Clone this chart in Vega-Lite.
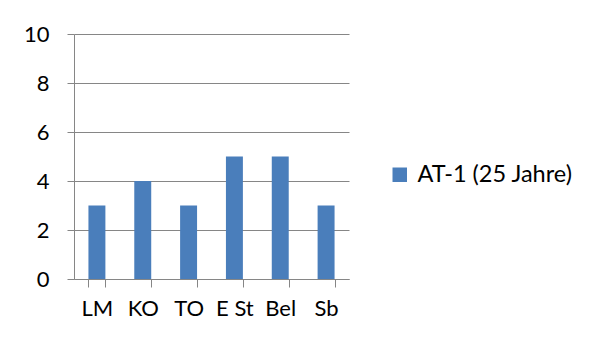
{
  "$schema": "https://vega.github.io/schema/vega-lite/v6.json",
  "width": 275,
  "height": 245,
  "autosize": {"type": "none"},
  "padding": {"left": 74, "top": 34, "right": 247, "bottom": 64},
  "background": "white",
  "data": {
    "values": [
      {"kategorie": "LM", "wert": 3, "serie": "AT-1 (25 Jahre)"},
      {"kategorie": "KO", "wert": 4, "serie": "AT-1 (25 Jahre)"},
      {"kategorie": "TO", "wert": 3, "serie": "AT-1 (25 Jahre)"},
      {"kategorie": "E St", "wert": 5, "serie": "AT-1 (25 Jahre)"},
      {"kategorie": "Bel", "wert": 5, "serie": "AT-1 (25 Jahre)"},
      {"kategorie": "Sb", "wert": 3, "serie": "AT-1 (25 Jahre)"}
    ]
  },
  "mark": {"type": "bar"},
  "encoding": {
    "x": {
      "field": "kategorie",
      "type": "nominal",
      "sort": null,
      "scale": {"paddingInner": 0.63, "paddingOuter": 0.315},
      "axis": {
        "title": null,
        "labelAngle": 0,
        "labelFont": "Lato",
        "labelFontSize": 22,
        "labelColor": "#000000",
        "labelPadding": 11,
        "domainColor": "#868686",
        "tickColor": "#868686",
        "tickSize": 8,
        "tickBand": "extent",
        "grid": false
      }
    },
    "y": {
      "field": "wert",
      "type": "quantitative",
      "scale": {"domain": [0, 10]},
      "axis": {
        "title": null,
        "values": [0, 2, 4, 6, 8, 10],
        "labelFont": "Lato",
        "labelFontSize": 22,
        "labelColor": "#000000",
        "labelPadding": 18,
        "domainColor": "#868686",
        "tickColor": "#868686",
        "tickSize": 7,
        "gridColor": "#868686",
        "grid": true
      }
    },
    "color": {
      "field": "serie",
      "type": "nominal",
      "scale": {"range": ["#4A7EBB"]},
      "legend": {
        "title": null,
        "orient": "none",
        "legendX": 314,
        "legendY": 129,
        "symbolType": "square",
        "symbolSize": 210,
        "symbolStrokeWidth": 0,
        "labelFont": "Lato",
        "labelFontSize": 23.5,
        "labelColor": "#000000",
        "labelOffset": 6
      }
    }
  },
  "config": {"view": {"stroke": null}}
}
